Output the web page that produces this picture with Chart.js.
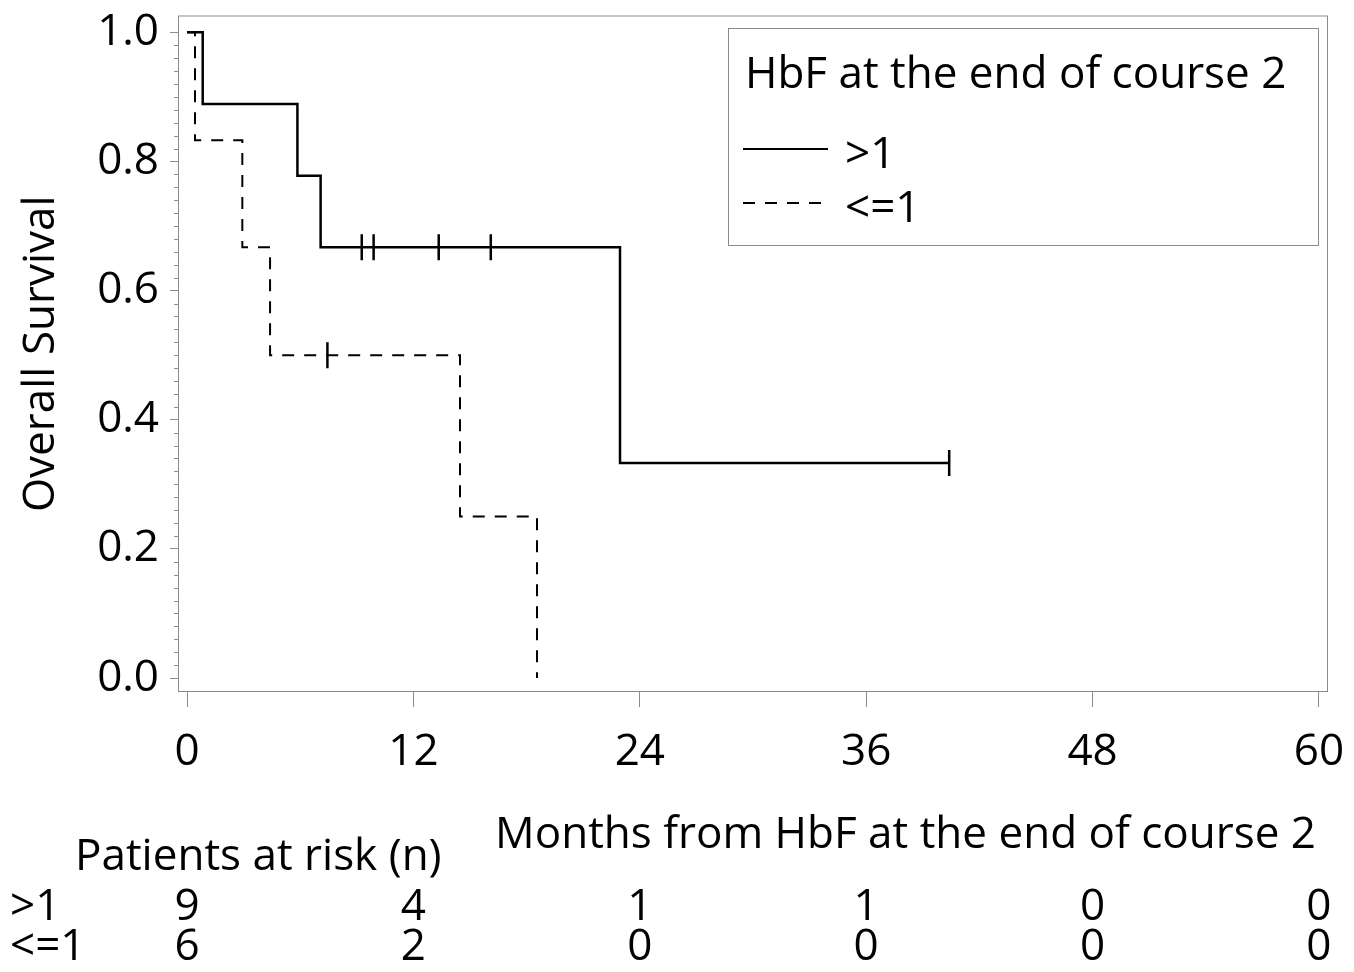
<!DOCTYPE html>
<html>
<head>
<meta charset="utf-8">
<title>Overall Survival by HbF</title>
<script src="https://cdn.jsdelivr.net/npm/chart.js@4.4.1/dist/chart.umd.min.js"></script>
<style>
  html, body { margin: 0; padding: 0; background: #fff; }
  canvas { display: block; }
</style>
</head>
<body>
<canvas id="kmChart" width="1354" height="972"></canvas>
<script>
// Kaplan-Meier steps (months, survival) for the two HbF groups
const groupLabels = ['>1', '<=1'];
const highTimes = [0, 0.83, 5.85, 7.08, 22.95, 40.4];
const highSurv  = [1, 0.889, 0.778, 0.667, 0.333, 0.333];
const lowTimes  = [0, 0.42, 2.93, 4.4, 14.47, 18.55];
const lowSurv   = [1, 0.833, 0.667, 0.5, 0.25, 0];

// censored observations
const highCensorTimes = [9.26, 9.89, 13.34, 16.1, 40.4];
const highCensorSurv  = [0.667, 0.667, 0.667, 0.667, 0.333];
const lowCensorTimes  = [7.44];
const lowCensorSurv   = [0.5];

// axis ticks
const monthTicks = [0, 12, 24, 36, 48, 60];
const survTicks = [0, 0.2, 0.4, 0.6, 0.8, 1.0];

// number at risk under the x axis
const riskHigh = [9, 4, 1, 1, 0, 0];
const riskLow  = [6, 2, 0, 0, 0, 0];

const FONT = 'Open Sans';
const FONT_SIZE = 44;
const AXIS_GRAY = '#8c8c8c';

Chart.defaults.font.family = FONT;
Chart.defaults.color = '#000';

const toPoints = (xs, ys) => xs.map((t, i) => ({ x: t, y: ys[i] }));

// frame, minor y ticks, legend box and the at-risk table
const kmDecor = {
  id: 'kmDecor',
  afterDraw(chart) {
    const { ctx, chartArea: a, scales: { x, y } } = chart;
    ctx.save();

    ctx.strokeStyle = AXIS_GRAY;
    ctx.lineWidth = 1;
    ctx.strokeRect(a.left + 0.5, a.top + 0.5, a.right - a.left - 1, a.bottom - a.top - 1);

    // minor ticks every 0.02
    ctx.beginPath();
    for (let i = 0; i <= 50; i++) {
      if (i % 10 === 0) continue;
      const py = Math.round(y.getPixelForValue(i / 50)) + 0.5;
      ctx.moveTo(a.left - 4, py);
      ctx.lineTo(a.left, py);
    }
    ctx.stroke();

    // legend
    const lx = 728, ly = 28, lw = 590, lh = 217;
    ctx.strokeRect(lx + 0.5, ly + 0.5, lw, lh);
    ctx.fillStyle = '#000';
    ctx.font = FONT_SIZE + 'px "' + FONT + '"';
    ctx.textAlign = 'left';
    ctx.textBaseline = 'alphabetic';
    ctx.fillText('HbF at the end of course 2', 745, 88);

    const rows = [168, 222];
    chart.data.datasets.slice(0, 2).forEach((ds, i) => {
      const yy = rows[i] - 19;
      ctx.save();
      ctx.strokeStyle = ds.borderColor;
      ctx.lineWidth = 2;
      ctx.setLineDash(ds.borderDash || []);
      ctx.beginPath();
      ctx.moveTo(743, yy);
      ctx.lineTo(828, yy);
      ctx.stroke();
      ctx.restore();
      ctx.fillText(ds.label, 845, rows[i]);
    });

    // x axis title and number at risk
    ctx.textAlign = 'right';
    ctx.fillText('Months from HbF at the end of course 2', 1316, 848);
    ctx.textAlign = 'left';
    ctx.fillText('Patients at risk (n)', 75, 870);
    ctx.fillText(groupLabels[0], 10, 920);
    ctx.fillText(groupLabels[1], 10, 960);
    ctx.textAlign = 'center';
    monthTicks.forEach((t, i) => {
      const px = x.getPixelForValue(t);
      ctx.fillText(String(riskHigh[i]), px, 920);
      ctx.fillText(String(riskLow[i]), px, 960);
    });

    ctx.restore();
  }
};

const censorStyle = {
  type: 'scatter',
  showLine: false,
  pointStyle: 'line',
  rotation: 90,
  pointRadius: 13,
  pointBorderWidth: 2.5,
  borderColor: '#000',
  backgroundColor: '#000'
};

new Chart(document.getElementById('kmChart'), {
  type: 'line',
  data: {
    datasets: [
      {
        label: groupLabels[0],
        data: toPoints(highTimes, highSurv),
        stepped: true,
        borderColor: '#000',
        borderWidth: 2.5,
        pointRadius: 0,
        fill: false
      },
      {
        label: groupLabels[1],
        data: toPoints(lowTimes, lowSurv),
        stepped: true,
        borderColor: '#000',
        borderWidth: 2,
        borderDash: [12, 10],
        pointRadius: 0,
        fill: false
      },
      Object.assign({ label: 'censored >1', data: toPoints(highCensorTimes, highCensorSurv) }, censorStyle),
      Object.assign({ label: 'censored <=1', data: toPoints(lowCensorTimes, lowCensorSurv) }, censorStyle)
    ]
  },
  options: {
    responsive: false,
    animation: false,
    layout: { padding: { top: 12, right: 26, left: 0, bottom: 0 } },
    plugins: {
      legend: { display: false },
      tooltip: { enabled: false }
    },
    scales: {
      x: {
        type: 'linear',
        min: -0.48,
        max: 60.48,
        afterBuildTicks: (scale) => { scale.ticks = monthTicks.map(v => ({ value: v })); },
        afterFit: (scale) => {
          scale.height = 280;
          scale.paddingLeft = 0;
          scale.paddingRight = 0;
        },
        border: { display: false },
        grid: { drawOnChartArea: false, tickLength: 15, tickColor: AXIS_GRAY, tickWidth: 1 },
        ticks: { font: { size: FONT_SIZE }, padding: 19, maxRotation: 0 }
      },
      y: {
        type: 'linear',
        min: -0.0216,
        max: 1.026,
        afterBuildTicks: (scale) => { scale.ticks = survTicks.map(v => ({ value: v })); },
        afterFit: (scale) => {
          scale.width = 178;
          scale.paddingTop = 0;
          scale.paddingBottom = 0;
        },
        border: { display: false },
        grid: { drawOnChartArea: false, tickLength: 8, tickColor: AXIS_GRAY, tickWidth: 1 },
        ticks: { font: { size: FONT_SIZE }, padding: 11, callback: (v) => Number(v).toFixed(1) },
        title: { display: true, text: 'Overall Survival', font: { size: FONT_SIZE }, padding: { top: 15, bottom: 0 } }
      }
    }
  },
  plugins: [kmDecor]
});
</script>
</body>
</html>
